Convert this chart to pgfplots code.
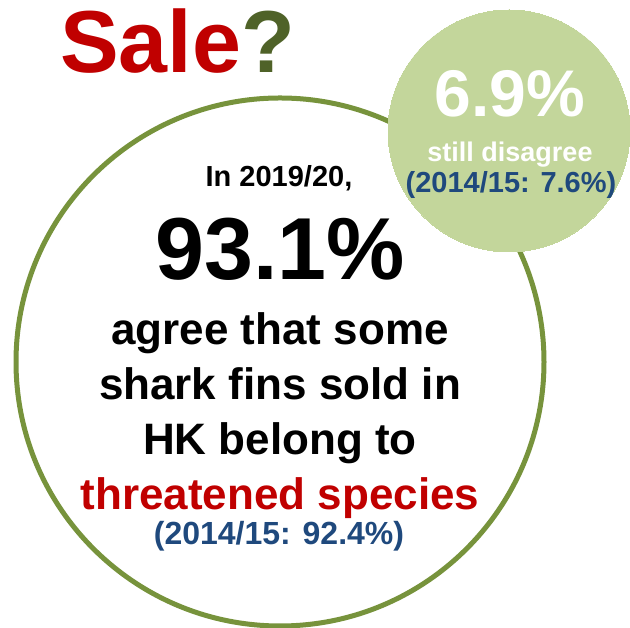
\documentclass[border=0pt]{standalone}
\usepackage{pgfplots}
\pgfplotsset{compat=1.18}
\usepackage{fontspec}
\setmainfont{Liberation Sans}
\definecolor{darkred}{HTML}{C00000}
\definecolor{olivedark}{HTML}{4F6228}
\definecolor{olive}{HTML}{77933C}
\definecolor{lightgreen}{HTML}{C3D69B}
\definecolor{navy}{HTML}{1F497D}
\newcommand{\fs}[1]{\fontsize{#1}{#1}\selectfont\bfseries}
\tikzset{t/.style={inner sep=0pt, anchor=base}}
\begin{document}
\begin{tikzpicture}
\begin{axis}[name=ax, hide axis, scale only axis, width=630pt, height=628pt,
  xmin=0, xmax=630, ymin=0, ymax=628, y dir=reverse, clip=false, set layers]
% agree 2019/20 (big circle)
\addplot[olive, line width=5pt, only marks, mark=*, mark size=264pt, mark options={draw=olive, fill=white, line width=5pt, solid}, every mark/.append style={line width=5pt}] coordinates {(280,362)};
% still disagree 2019/20 (small circle)
\addplot[lightgreen, only marks, mark=*, mark size=121pt, mark options={draw=lightgreen, fill=lightgreen, line width=0pt}] coordinates {(509,131)};
\begin{pgfonlayer}{axis foreground}
\node[inner sep=0pt, anchor=base west] at (axis cs:60,73) {\fs{88}\textcolor{darkred}{Sale}\textcolor{olivedark}{?}};
\node[t] at (axis cs:279,187) {\fs{29}In 2019/20,};
\node[t] at (axis cs:280,280) {\fs{88}93.1\%};
\node[t] at (axis cs:280,345) {\fs{44}agree that some};
\node[t] at (axis cs:280,400) {\fs{44}shark fins sold in};
\node[t] at (axis cs:280,455) {\fs{44}HK belong to};
\node[t] at (axis cs:280,510) {\fs{44}\textcolor{darkred}{threatened species}};
\node[t] at (axis cs:279,545) {\fs{32}\textcolor{navy}{(2014/15: 92.4\%)}};
\node[t] at (axis cs:510,117) {\fs{66}\textcolor{white}{6.9\%}};
\node[t] at (axis cs:510,162) {\fs{27}\textcolor{white}{still disagree}};
\node[t] at (axis cs:511,193) {\fs{29}\textcolor{navy}{(2014/15: 7.6\%)}};
\end{pgfonlayer}
\end{axis}
\pgfresetboundingbox
\path (ax.south west) rectangle (ax.north east);
\end{tikzpicture}
\end{document}
